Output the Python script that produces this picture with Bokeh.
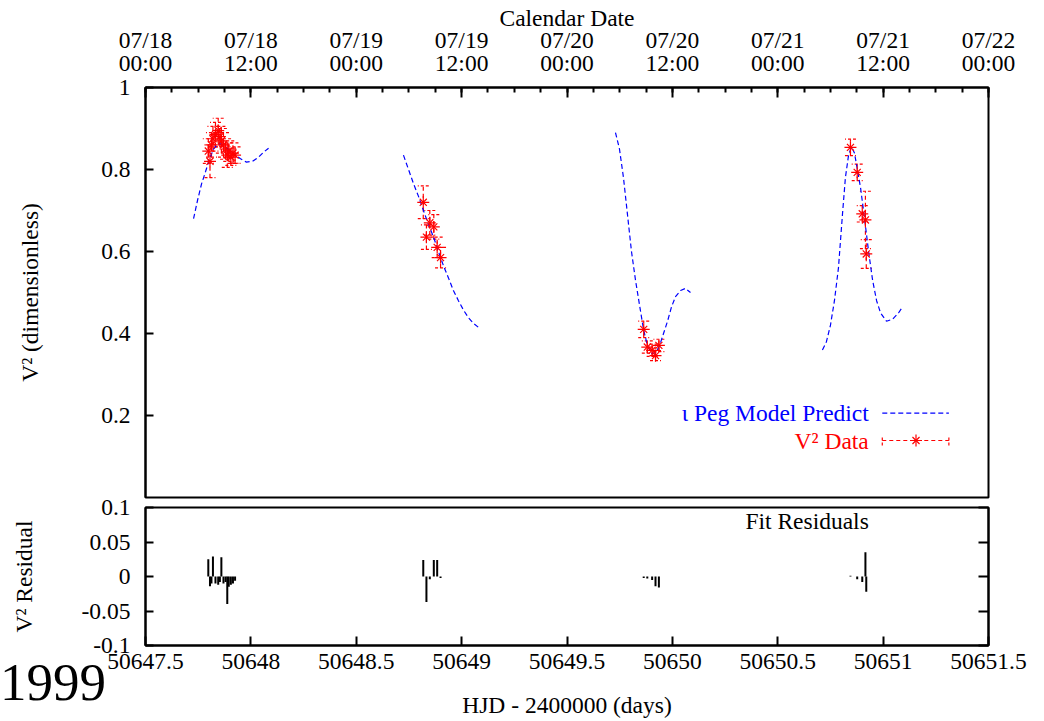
from bokeh.plotting import figure
from bokeh.models import (Range1d, LinearAxis, FixedTicker, Whisker, TeeHead,
                          ColumnDataSource, Label, Div)
from bokeh.layouts import column
from bokeh.embed import file_html
from bokeh.resources import INLINE

FONT = "Liberation Serif"
FS = "23.5px"

# ---------------- data ----------------
# model prediction segments (HJD - 2400000, V^2)
model_hjd_1 = [50647.728, 50647.747, 50647.766, 50647.785, 50647.804, 50647.823, 50647.842,
               50647.861, 50647.880, 50647.903, 50647.927, 50647.951, 50647.979, 50648.008,
               50648.036, 50648.060, 50648.084]
model_v2_1 = [0.68, 0.725, 0.765, 0.795, 0.826, 0.85, 0.862, 0.862, 0.855, 0.845, 0.835,
              0.826, 0.818, 0.82, 0.83, 0.842, 0.852]

model_hjd_2 = [50648.724, 50648.748, 50648.772, 50648.795, 50648.819, 50648.843, 50648.867,
               50648.890, 50648.914, 50648.938, 50648.961, 50648.985, 50649.009, 50649.033,
               50649.056, 50649.080]
model_v2_2 = [0.835, 0.80, 0.765, 0.735, 0.70, 0.665, 0.635, 0.60, 0.565, 0.535, 0.505,
              0.48, 0.457, 0.438, 0.425, 0.415]

model_hjd_3 = [50649.730, 50649.749, 50649.768, 50649.787, 50649.806, 50649.825, 50649.844,
               50649.863, 50649.882, 50649.901, 50649.920, 50649.939, 50649.958, 50649.977,
               50649.996, 50650.015, 50650.039, 50650.062, 50650.086]
model_v2_3 = [0.89, 0.85, 0.78, 0.69, 0.60, 0.53, 0.47, 0.41, 0.37, 0.352, 0.352, 0.37,
              0.40, 0.43, 0.465, 0.49, 0.505, 0.51, 0.50]

model_hjd_4 = [50650.712, 50650.731, 50650.750, 50650.769, 50650.788, 50650.807, 50650.821,
               50650.836, 50650.850, 50650.864, 50650.878, 50650.893, 50650.912, 50650.931,
               50650.950, 50650.969, 50650.988, 50651.016, 50651.045, 50651.073, 50651.092]
model_v2_4 = [0.36, 0.38, 0.42, 0.48, 0.56, 0.69, 0.78, 0.835, 0.855, 0.84, 0.80, 0.755,
              0.68, 0.60, 0.53, 0.48, 0.45, 0.43, 0.435, 0.45, 0.465]

# measured V^2 data
data_hjd = [50647.798, 50647.806, 50647.813, 50647.820, 50647.832, 50647.845, 50647.853,
            50647.860, 50647.870, 50647.880, 50647.888, 50647.895, 50647.905, 50647.915,
            50647.925,
            50648.818, 50648.833, 50648.849, 50648.868, 50648.884, 50648.900,
            50649.864, 50649.881, 50649.904, 50649.920, 50649.936,
            50650.845, 50650.877, 50650.901, 50650.916, 50650.920]
data_v2 = [0.845, 0.82, 0.86, 0.875, 0.885, 0.895, 0.88, 0.87, 0.86, 0.85, 0.835, 0.845,
           0.83, 0.84, 0.835,
           0.72, 0.635, 0.67, 0.66, 0.61, 0.585,
           0.41, 0.367, 0.359, 0.346, 0.371,
           0.854, 0.793, 0.692, 0.677, 0.594]
data_err = [0.03, 0.04, 0.03, 0.03, 0.03, 0.03, 0.025, 0.03, 0.03, 0.025, 0.03, 0.025,
            0.02, 0.025, 0.02,
            0.04, 0.03, 0.03, 0.03, 0.025, 0.025,
            0.02, 0.015, 0.015, 0.012, 0.015,
            0.02, 0.02, 0.02, 0.07, 0.035]
residual = [0.025, -0.014, -0.010, 0.029, -0.010, -0.012, -0.008, 0.028, -0.010, -0.008,
            -0.040, -0.015, -0.012, -0.010, -0.006,
            0.024, -0.037, -0.004, 0.024, 0.024, -0.002,
            -0.002, -0.003, -0.005, -0.014, -0.016,
            0.001, -0.004, -0.008, 0.035, -0.022]

# axis ticks / labels
hjd_ticks = [50647.5, 50648.0, 50648.5, 50649.0, 50649.5, 50650.0, 50650.5, 50651.0, 50651.5]
hjd_labels = ["50647.5", "50648", "50648.5", "50649", "50649.5", "50650", "50650.5",
              "50651", "50651.5"]
cal_labels = ["07/18\n00:00", "07/18\n12:00", "07/19\n00:00", "07/19\n12:00", "07/20\n00:00",
              "07/20\n12:00", "07/21\n00:00", "07/21\n12:00", "07/22\n00:00"]
cal_minor = [50647.5 + 0.125 * i for i in range(33)]
v2_ticks = [0.2, 0.4, 0.6, 0.8, 1.0]
v2_labels = ["0.2", "0.4", "0.6", "0.8", "1"]
res_ticks = [-0.1, -0.05, 0.0, 0.05, 0.1]
res_labels = ["-0.1", "-0.05", "0", "0.05", "0.1"]

X0, X1 = 50647.5, 50651.5
W = 1036
LEFT, RIGHT = 145, 48


def fx(f):
    return X0 + f * (X1 - X0)


def style_axis(ax):
    ax.axis_line_color = "black"
    ax.axis_line_width = 2
    ax.major_tick_line_color = "black"
    ax.major_tick_line_width = 2
    ax.minor_tick_line_color = "black"
    ax.minor_tick_line_width = 2
    ax.major_tick_out = 0
    ax.minor_tick_out = 0
    ax.major_label_text_font = FONT
    ax.major_label_text_font_size = FS
    ax.major_label_text_color = "black"
    ax.axis_label_text_font = FONT
    ax.axis_label_text_font_size = FS
    ax.axis_label_text_font_style = "normal"
    ax.axis_label_text_color = "black"


# ---------------- top panel ----------------
p1 = figure(width=W, height=500, x_range=Range1d(X0, X1), y_range=Range1d(0, 1),
            output_backend="svg", toolbar_location=None, x_axis_location="above",
            min_border_left=LEFT, min_border_right=RIGHT, min_border_top=87, min_border_bottom=3)
p1.grid.visible = False
p1.outline_line_color = "black"
p1.outline_line_width = 2
p1.background_fill_color = "white"
p1.border_fill_color = "white"

xa = p1.xaxis[0]
style_axis(xa)
xa.ticker = FixedTicker(ticks=hjd_ticks, minor_ticks=cal_minor)
xa.major_label_overrides = {t: l for t, l in zip(hjd_ticks, cal_labels)}
xa.major_label_text_line_height = 0.85
xa.major_tick_in = 10
xa.minor_tick_in = 5
xa.major_label_standoff = 12
xa.axis_label = "Calendar Date"
xa.axis_label_standoff = -7

ya = p1.yaxis[0]
style_axis(ya)
ya.ticker = FixedTicker(ticks=v2_ticks, minor_ticks=[])
ya.major_label_overrides = {t: l for t, l in zip(v2_ticks, v2_labels)}
ya.major_tick_in = 8
ya.minor_tick_in = 0
ya.major_label_standoff = 15
ya.axis_label = "V\u00b2 (dimensionless)"
ya.axis_label_standoff = 55

for hx, hy in [(model_hjd_1, model_v2_1), (model_hjd_2, model_v2_2),
               (model_hjd_3, model_v2_3), (model_hjd_4, model_v2_4)]:
    p1.line(hx, hy, line_color="#0000ff", line_width=1.2, line_dash="5 3")

src = ColumnDataSource(dict(
    x=data_hjd, y=data_v2,
    lo=[v - e for v, e in zip(data_v2, data_err)],
    hi=[v + e for v, e in zip(data_v2, data_err)],
    res=residual, zero=[0.0] * len(data_hjd)))

wh = Whisker(source=src, base="x", lower="lo", upper="hi", dimension="height",
             line_color="#ff0000", line_width=1.2, line_dash="4 3",
             lower_head=TeeHead(size=11, line_color="#ff0000", line_width=1.2, line_dash="3 2"),
             upper_head=TeeHead(size=11, line_color="#ff0000", line_width=1.2, line_dash="3 2"))
p1.add_layout(wh)
p1.scatter("x", "y", source=src, marker="cross", size=12, line_color="#ff0000", line_width=1.2)
p1.scatter("x", "y", source=src, marker="x", size=10, line_color="#ff0000", line_width=1.2)

# legend (gnuplot style: text on left, sample on right)
p1.add_layout(Label(x=fx(0.858), y=0.205, text="\u03b9 Peg Model Predict", text_align="right",
                    text_baseline="middle", text_font=FONT, text_font_size=FS,
                    text_color="#0000ff"))
p1.add_layout(Label(x=fx(0.858), y=0.139, text="V\u00b2 Data", text_align="right",
                    text_baseline="middle", text_font=FONT, text_font_size=FS,
                    text_color="#ff0000"))
p1.line([fx(0.874), fx(0.953)], [0.206, 0.206], line_color="#0000ff", line_width=1.2,
        line_dash="5 3")
p1.line([fx(0.874), fx(0.953)], [0.139, 0.139], line_color="#ff0000", line_width=1.2,
        line_dash="4 3")
p1.segment([fx(0.874), fx(0.953)], [0.127, 0.127], [fx(0.874), fx(0.953)], [0.151, 0.151],
           line_color="#ff0000", line_width=1.2, line_dash="3 2")
p1.scatter([fx(0.914)], [0.139], marker="cross", size=12, line_color="#ff0000", line_width=1.2)
p1.scatter([fx(0.914)], [0.139], marker="x", size=10, line_color="#ff0000", line_width=1.2)

# ---------------- residual panel ----------------
p2 = figure(width=W, height=240, x_range=p1.x_range, y_range=Range1d(-0.1, 0.1),
            output_backend="svg", toolbar_location=None, margin=(-20, 0, 0, 0),
            min_border_left=LEFT, min_border_right=RIGHT, min_border_top=27, min_border_bottom=71)
p2.grid.visible = False
p2.outline_line_color = "black"
p2.outline_line_width = 2
p2.background_fill_color = "white"
p2.border_fill_color = None

xb = p2.xaxis[0]
style_axis(xb)
xb.ticker = FixedTicker(ticks=hjd_ticks, minor_ticks=[])
xb.major_label_overrides = {t: l for t, l in zip(hjd_ticks, hjd_labels)}
xb.major_tick_in = 9
xb.minor_tick_in = 0
xb.major_label_standoff = 8
xb.axis_label = "HJD - 2400000 (days)"
xb.axis_label_standoff = 20

yb = p2.yaxis[0]
style_axis(yb)
yb.ticker = FixedTicker(ticks=res_ticks, minor_ticks=[])
yb.major_label_overrides = {t: l for t, l in zip(res_ticks, res_labels)}
yb.major_tick_in = 8
yb.minor_tick_in = 0
yb.major_label_standoff = 15
yb.axis_label = "V\u00b2 Residual"
yb.axis_label_standoff = 42

# mirrored tick marks on the right edge (no labels)
yr = LinearAxis(ticker=FixedTicker(ticks=res_ticks, minor_ticks=[]))
style_axis(yr)
yr.major_tick_in = 10
yr.minor_tick_in = 0
yr.major_label_text_font_size = "2px"
yr.major_label_text_color = None
yr.major_label_standoff = 0
p2.add_layout(yr, "right")

p2.segment("x", "zero", "x", "res", source=src, line_color="black", line_width=2)

p2.add_layout(Label(x=fx(0.858), y=0.080, text="Fit Residuals", text_align="right",
                    text_baseline="middle", text_font=FONT, text_font_size=FS,
                    text_color="black"))

# stray "1999" caption at the lower left of the page
year = Div(text="1999", width=120, height=60, margin=(-68, 0, 0, 0),
           styles={"font-family": "'Liberation Serif', serif", "font-size": "53px",
                   "line-height": "60px", "color": "black", "padding": "0px"})

layout = column(p1, p2, year, spacing=0)
open("out.html", "w").write(file_html(layout, INLINE))
